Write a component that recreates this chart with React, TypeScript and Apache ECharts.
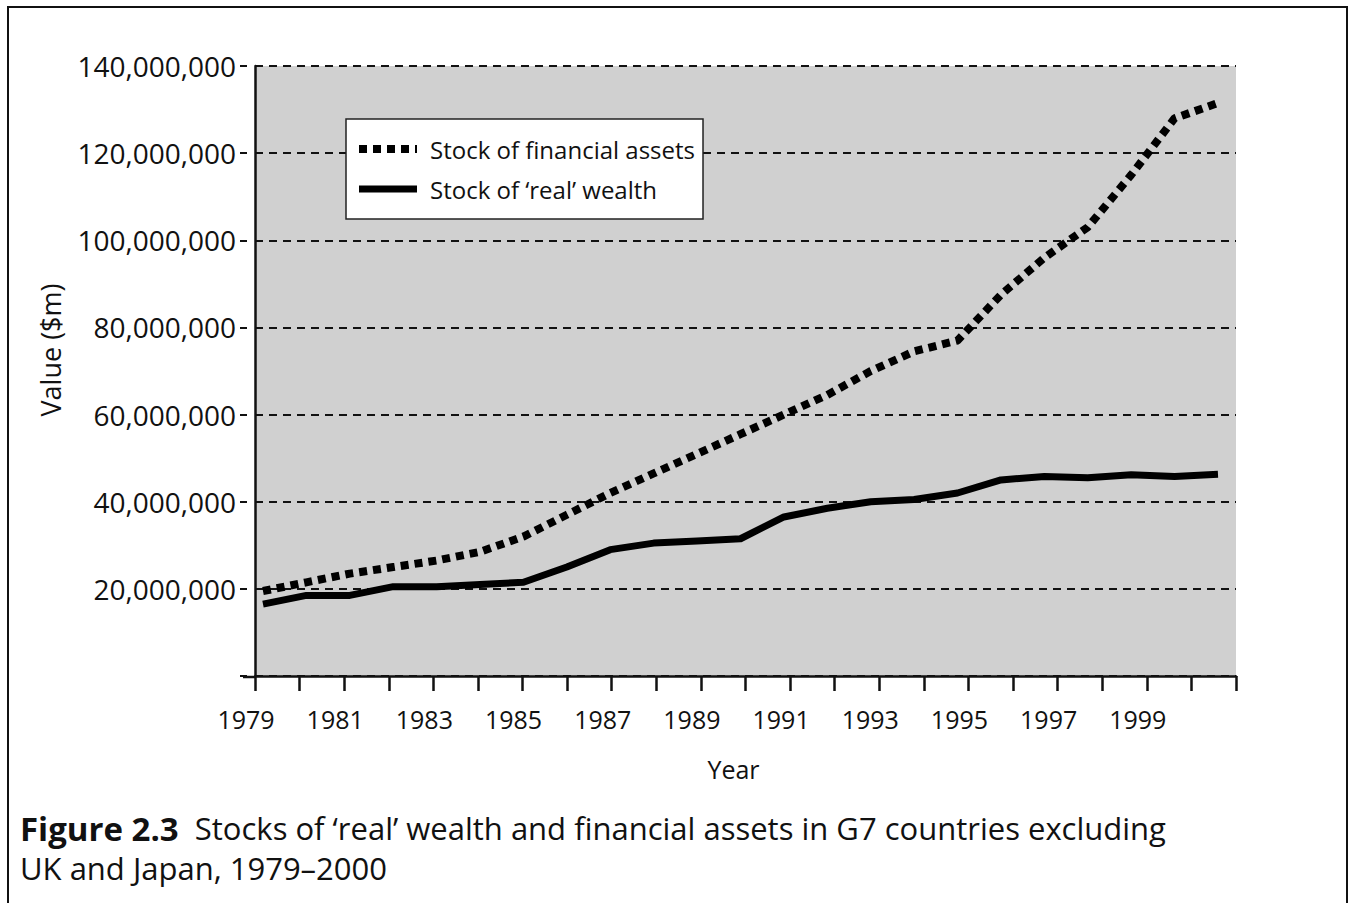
import React, { useEffect, useRef } from "react";
import * as echarts from "echarts";

const years = [1979, 1980, 1981, 1982, 1983, 1984, 1985, 1986, 1987, 1988, 1989, 1990, 1991, 1992, 1993, 1994, 1995, 1996, 1997, 1998, 1999, 2000, 2001];
const financialAssets = [19.5, 21.5, 23.5, 25, 26.5, 28.5, 32, 37, 42, 46.5, 51, 55.5, 60, 64.5, 70, 74.5, 77, 87.5, 96, 103, 115, 128, 131.5];
const realWealth = [16.5, 18.5, 18.5, 20.5, 20.5, 21, 21.5, 25, 29, 30.5, 31, 31.5, 36.5, 38.5, 40, 40.5, 42, 45, 45.8, 45.5, 46.2, 45.8, 46.3];
const labelYears = [1979, 1981, 1983, 1985, 1987, 1989, 1991, 1993, 1995, 1997, 1999];
const seriesNames = ["Stock of financial assets", "Stock of \u2018real\u2019 wealth"];

const FONT = "Open Sans";

export default function App() {
  const ref = useRef<HTMLDivElement>(null);
  useEffect(() => {
    if (!ref.current) return;
    const chart = echarts.init(ref.current, undefined, { renderer: "svg" });
    const fmt = (v: number) => v.toLocaleString("en-US");
    const option: any = {
      animation: false,
      backgroundColor: "#ffffff",
      textStyle: { fontFamily: FONT, color: "#111" },
      grid: {
        left: 255,
        top: 66,
        right: 114,
        bottom: 227,
        show: true,
        backgroundColor: "#d0d0d0",
        borderWidth: 0,
        outerBoundsMode: "none",
        containLabel: false,
      },
      legend: {
        data: [
          { name: seriesNames[0], lineStyle: { width: 8, type: [8, 6], color: "#000", cap: "butt" } },
          { name: seriesNames[1], lineStyle: { width: 7, type: "solid", color: "#000" } },
        ],
        orient: "vertical",
        left: 346,
        top: 119,
        backgroundColor: "#ffffff",
        borderColor: "#222",
        borderWidth: 1.5,
        borderRadius: 0,
        padding: [16, 8, 16, 9],
        itemWidth: 58,
        itemHeight: 14,
        itemGap: 12,
        itemStyle: { opacity: 0 },
        textStyle: { fontFamily: FONT, fontSize: 24, color: "#111", padding: [0, 0, 0, 8], lineHeight: 28 },
      },
      xAxis: [
        {
          type: "value",
          min: 1979,
          max: 2001,
          interval: 1,
          name: "Year",
          nameLocation: "middle",
          nameGap: 80,
          nameTextStyle: { fontFamily: FONT, fontSize: 25, color: "#111", padding: [0, 24, 0, 0] },
          axisLine: { show: true, lineStyle: { color: "#111", width: 2.5 } },
          axisTick: { show: true, length: 15, lineStyle: { color: "#111", width: 2.5 } },
          axisLabel: {
            fontFamily: FONT,
            fontSize: 25,
            color: "#111",
            margin: 30,
            padding: [0, 18, 0, 0],
            formatter: (v: number) => (labelYears.indexOf(Math.round(v)) >= 0 ? String(Math.round(v)) : ""),
          },
          splitLine: { show: false },
        },
        {
          type: "value",
          min: 1978.816,
          max: 2001.415,
          show: false,
        },
      ],
      yAxis: [
        {
          type: "value",
          position: "left",
          min: 0,
          max: 140000000,
          interval: 20000000,
          axisLine: { show: true, lineStyle: { color: "#111", width: 2.5 } },
          axisTick: { show: false },
          axisLabel: { show: false },
          splitLine: { show: true, lineStyle: { color: "#111", width: 2, type: [8, 6] } },
        },
        {
          type: "value",
          position: "left",
          min: 0,
          max: 140000000,
          interval: 20000000,
          offset: 8,
          axisLine: { show: false },
          axisTick: { show: true, length: 7, lineStyle: { color: "#111", width: 2 } },
          axisLabel: {
            fontFamily: FONT,
            fontSize: 28,
            color: "#111",
            margin: 11,
            formatter: (v: number) => (v === 0 ? "" : fmt(v)),
          },
          splitLine: { show: false },
        },
      ],
      series: [
        {
          name: seriesNames[0],
          type: "line",
          xAxisIndex: 1,
          yAxisIndex: 0,
          symbol: "none",
          data: years.map((y, i) => [y, financialAssets[i] * 1e6]),
          lineStyle: { color: "#000", width: 8, type: [8, 6], cap: "butt" },
          itemStyle: { color: "#000" },
          z: 3,
        },
        {
          name: seriesNames[1],
          type: "line",
          xAxisIndex: 1,
          yAxisIndex: 0,
          symbol: "none",
          data: years.map((y, i) => [y, realWealth[i] * 1e6]),
          lineStyle: { color: "#000", width: 7, join: "round", cap: "butt" },
          itemStyle: { color: "#000" },
          z: 3,
        },
      ],
      graphic: [
        {
          type: "rect",
          shape: { x: 8, y: 7, width: 1339, height: 905 },
          style: { fill: "none", stroke: "#111", lineWidth: 2 },
          silent: true,
        },
        {
          type: "line",
          shape: { x1: 243, y1: 677, x2: 256, y2: 677 },
          style: { stroke: "#111", lineWidth: 2.5 },
          silent: true,
        },
        {
          type: "text",
          x: 50,
          y: 350,
          rotation: Math.PI / 2,
          style: {
            text: "Value ($m)",
            fontFamily: FONT,
            fontSize: 27,
            fill: "#111",
            align: "center",
            verticalAlign: "middle",
          },
        },
        {
          type: "text",
          x: 20,
          y: 828,
          style: {
            text: "{b|Figure 2.3}  {n|Stocks of \u2018real\u2019 wealth and financial assets in G7 countries excluding}",
            fontFamily: FONT,
            fontSize: 31,
            lineHeight: 34,
            fill: "#111",
            verticalAlign: "middle",
            rich: {
              b: { fontFamily: FONT, fontSize: 33, fontWeight: "bold", fill: "#111", lineHeight: 34 },
              n: { fontFamily: FONT, fontSize: 31, fill: "#111", lineHeight: 34 },
            },
          },
        },
        {
          type: "text",
          x: 20,
          y: 868,
          style: {
            text: "UK and Japan, 1979\u20132000",
            fontFamily: FONT,
            fontSize: 31,
            lineHeight: 32,
            fill: "#111",
            verticalAlign: "middle",
          },
        },
      ],
    };
    chart.setOption(option);
    return () => chart.dispose();
  }, []);
  return <div ref={ref} style={{ position: "fixed", left: 0, top: 0, width: 1350, height: 903 }} />;
}
